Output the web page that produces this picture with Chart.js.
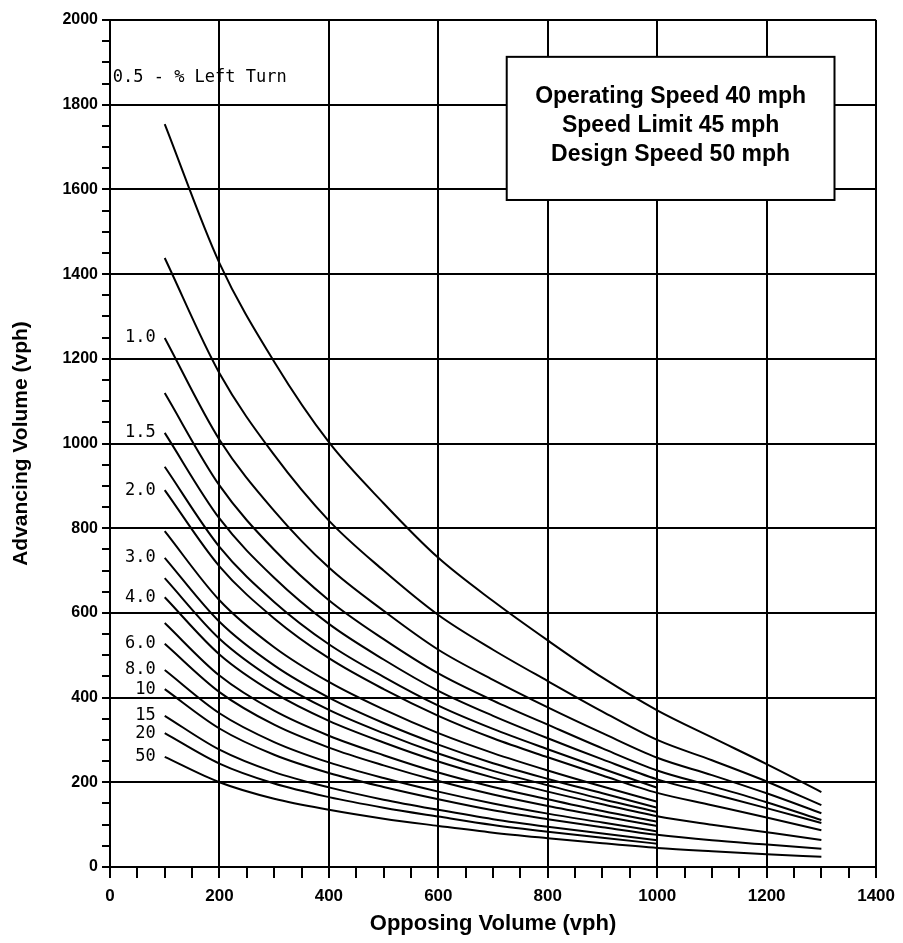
<!DOCTYPE html>
<html>
<head>
<meta charset="utf-8">
<script src="https://cdn.jsdelivr.net/npm/chart.js@4.4.1/dist/chart.umd.min.js"></script>
<style>
  html, body { margin: 0; padding: 0; background: #fff; }
</style>
</head>
<body>
<canvas id="leftTurnChart" width="903" height="943"></canvas>
<script>
// opposing volume (vph) where the curves were read
const opposingVolume = [100, 200, 300, 400, 500, 600, 700, 800, 900, 1000, 1100, 1200, 1300];

// advancing volume (vph) for each % left turn curve
const lt05  = [1754, 1426, 1193, 1003, 859, 730, 628, 535, 447, 370, 306, 243, 177];
const lt075 = [1438, 1166, 973, 818, 700, 595, 513, 439, 367, 300, 252, 202, 146];
const lt10  = [1249, 1009, 841, 707, 605, 513, 442, 377, 316, 258, 217, 174, 127];
const lt125 = [1119, 901, 749, 630, 538, 457, 393, 336, 280, 228, 191, 153, 111];
const lt15  = [1025, 823, 683, 574, 490, 416, 357, 304, 254, 207, 173, 139, 104];
const lt175 = [945, 756, 626, 526, 449, 381, 326, 278, 232, 187, null, null, null];
const lt20  = [890, 710, 587, 493, 420, 357, 304, 259, 216, 175, 146, 117, 87];
const lt25  = [793, 630, 519, 437, 372, 316, 269, 228, 190, 154, null, null, null];
const lt30  = [730, 579, 476, 400, 340, 289, 245, 208, 174, 140, null, null, null];
const lt35  = [682, 539, 442, 371, 316, 268, 227, 193, 160, 130, null, null, null];
const lt40  = [637, 502, 411, 345, 294, 249, 211, 178, 148, 120, 100, 82, 64];
const lt50  = [576, 452, 369, 310, 264, 223, 189, 160, 132, 107, null, null, null];
const lt60  = [527, 413, 336, 282, 240, 203, 171, 144, 120, 97, null, null, null];
const lt80  = [465, 363, 295, 247, 210, 178, 150, 126, 105, 84, null, null, null];
const lt100 = [420, 327, 265, 222, 189, 160, 134, 113, 94, 76, 63, 53, 43];
const lt150 = [357, 277, 224, 188, 159, 135, 113, 95, 79, 63, null, null, null];
const lt200 = [316, 244, 197, 165, 140, 119, 99, 83, 69, 55, null, null, null];
const lt500 = [260, 200, 161, 135, 114, 97, 81, 68, 56, 45, 37, 30, 24];

// curve names and the text printed beside them ('' = no label)
const curveNames = ['0.5', '0.75', '1.0', '1.25', '1.5', '1.75', '2.0', '2.5', '3.0',
  '3.5', '4.0', '5.0', '6.0', '8.0', '10', '15', '20', '50'];
const curveTags = ['', '', '1.0', '', '1.5', '', '2.0', '', '3.0',
  '', '4.0', '', '6.0', '8.0', '10', '15', '20', '50'];
const curveValues = [lt05, lt075, lt10, lt125, lt15, lt175, lt20, lt25, lt30,
  lt35, lt40, lt50, lt60, lt80, lt100, lt150, lt200, lt500];

const boxLines = ['Operating Speed 40 mph', 'Speed Limit 45 mph', 'Design Speed 50 mph'];

const datasets = curveValues.map((vals, i) => ({
  label: curveNames[i],
  tag: curveTags[i],
  data: opposingVolume.map((x, j) => ({x: x, y: vals[j]})).filter(p => p.y !== null),
  borderColor: '#000',
  borderWidth: 2,
  pointRadius: 0,
  fill: false,
  cubicInterpolationMode: 'monotone'
}));

// labels next to curves + speed box
const chartNotes = {
  id: 'chartNotes',
  afterDatasetsDraw(chart) {
    const {ctx, scales: {x, y}} = chart;
    ctx.save();
    ctx.fillStyle = '#000';
    ctx.font = '17px "DejaVu Sans Mono"';
    ctx.textAlign = 'right';
    ctx.textBaseline = 'middle';
    chart.data.datasets.forEach(ds => {
      if (!ds.tag) return;
      const p = ds.data[0];
      ctx.fillText(ds.tag, x.getPixelForValue(p.x) - 9, y.getPixelForValue(p.y));
    });
    ctx.textAlign = 'left';
    ctx.fillText('0.5 - % Left Turn', x.getPixelForValue(5), y.getPixelForValue(1865));

    const bx1 = x.getPixelForValue(725), bx2 = x.getPixelForValue(1324);
    const by1 = y.getPixelForValue(1913), by2 = y.getPixelForValue(1575);
    ctx.fillStyle = '#fff';
    ctx.fillRect(bx1, by1, bx2 - bx1, by2 - by1);
    ctx.strokeStyle = '#000';
    ctx.lineWidth = 2;
    ctx.strokeRect(bx1, by1, bx2 - bx1, by2 - by1);
    ctx.fillStyle = '#000';
    ctx.font = 'bold 23px "Liberation Sans"';
    ctx.textAlign = 'center';
    const lineY = [1820, 1750, 1681];
    boxLines.forEach((t, i) => {
      ctx.fillText(t, (bx1 + bx2) / 2, y.getPixelForValue(lineY[i]));
    });
    ctx.restore();
  }
};

const majorOnly = ctx => (ctx.tick && ctx.tick.value % 200 === 0) ? '#000' : 'rgba(0,0,0,0)';

new Chart(document.getElementById('leftTurnChart'), {
  type: 'line',
  data: { datasets: datasets },
  options: {
    responsive: false,
    animation: false,
    devicePixelRatio: 1,
    layout: { padding: { top: 20, right: 25, left: 0, bottom: 0 } },
    plugins: {
      legend: { display: false },
      tooltip: { enabled: false }
    },
    scales: {
      x: {
        type: 'linear',
        min: 0,
        max: 1400,
        afterFit: scale => { scale.height = 76; },
        border: { display: true, color: '#000', width: 2 },
        grid: { color: majorOnly, tickColor: '#000', lineWidth: 2, tickLength: 11 },
        ticks: {
          stepSize: 50,
          autoSkip: false,
          maxRotation: 0,
          minRotation: 0,
          padding: 8,
          color: '#000',
          font: { family: 'Liberation Sans', size: 17, weight: 'bold' },
          callback: v => (v % 200 === 0 ? v : '')
        },
        title: {
          display: true,
          text: 'Opposing Volume (vph)',
          color: '#000',
          font: { family: 'Liberation Sans', size: 22, weight: 'bold' },
          padding: { top: 0, bottom: 6 }
        }
      },
      y: {
        min: 0,
        max: 2000,
        afterFit: scale => { scale.width = 110; },
        border: { display: true, color: '#000', width: 2 },
        grid: { color: majorOnly, tickColor: '#000', lineWidth: 2, tickLength: 8 },
        ticks: {
          stepSize: 50,
          autoSkip: false,
          padding: 4,
          color: '#000',
          font: { family: 'Liberation Sans', size: 16, weight: 'bold' },
          callback: v => (v % 200 === 0 ? v : '')
        },
        title: {
          display: true,
          text: 'Advancing Volume (vph)',
          color: '#000',
          font: { family: 'Liberation Sans', size: 21, weight: 'bold' },
          padding: { top: 9, bottom: 0 }
        }
      }
    }
  },
  plugins: [chartNotes]
});
</script>
</body>
</html>
